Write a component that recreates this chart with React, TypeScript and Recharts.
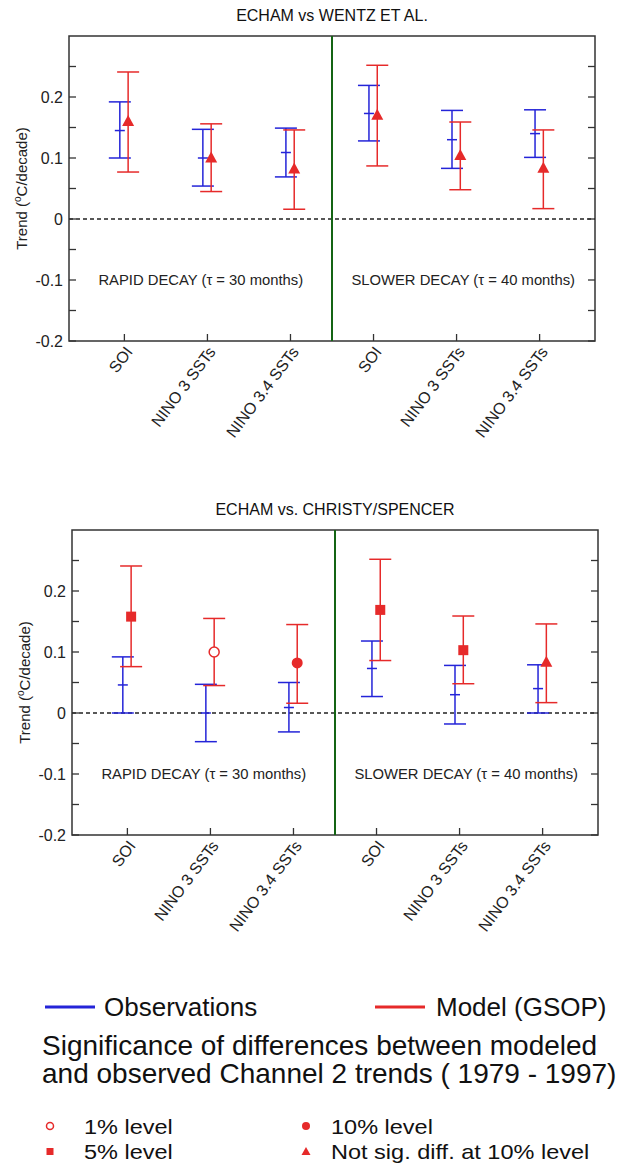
import React from "react";
import {
  ComposedChart,
  Scatter,
  ErrorBar,
  XAxis,
  YAxis,
  ReferenceLine,
  ReferenceArea,
  ReferenceDot,
} from "recharts";

const categories = ["SOI", "NINO 3 SSTs", "NINO 3.4 SSTs", "SOI", "NINO 3 SSTs", "NINO 3.4 SSTs"];
const catPos = [1, 2, 3, 4, 5, 6];
const yTicks = [-0.2, -0.15, -0.1, -0.05, 0, 0.05, 0.1, 0.15, 0.2, 0.25];

// ECHAM vs Wentz et al.
const wentzObsMid = [0.145, 0.1, 0.109, 0.173, 0.13, 0.14];
const wentzObsLow = [0.1, 0.054, 0.069, 0.128, 0.083, 0.101];
const wentzObsHigh = [0.192, 0.147, 0.149, 0.219, 0.178, 0.179];
const wentzModMid = [0.16, 0.1, 0.082, 0.17, 0.104, 0.083];
const wentzModLow = [0.077, 0.045, 0.016, 0.087, 0.048, 0.017];
const wentzModHigh = [0.241, 0.156, 0.146, 0.252, 0.159, 0.146];
const wentzSig = ["ns", "ns", "ns", "ns", "ns", "ns"];

// ECHAM vs Christy/Spencer
const christyObsMid = [0.046, 0, 0.009, 0.073, 0.03, 0.04];
const christyObsLow = [0, -0.047, -0.031, 0.027, -0.018, 0];
const christyObsHigh = [0.092, 0.047, 0.05, 0.118, 0.078, 0.079];
const christyModMid = [0.158, 0.1, 0.082, 0.169, 0.103, 0.083];
const christyModLow = [0.076, 0.045, 0.016, 0.086, 0.048, 0.017];
const christyModHigh = [0.241, 0.155, 0.145, 0.252, 0.159, 0.146];
const christySig = ["5%", "1%", "10%", "5%", "5%", "ns"];

const BLUE = "#2424d8";
const RED = "#e62a2a";
const GREEN = "#146414";
const FONT = "'Liberation Sans', Arial, sans-serif";

const buildRows = (mid: number[], low: number[], high: number[], shift: number, sig?: string[]) =>
  mid.map((m, i) => ({
    x: catPos[i] + shift,
    y: m,
    err: [m - low[i], high[i] - m],
    sig: sig ? sig[i] : "",
  }));

const ObsMark = (props: any) => {
  const { cx, cy } = props;
  return <line x1={cx - 5} x2={cx + 5} y1={cy} y2={cy} stroke={BLUE} strokeWidth={1.5} />;
};

const ModMark = (props: any) => {
  const { cx, cy, payload } = props;
  const s = payload.sig;
  if (s === "5%") return <rect x={cx - 5} y={cy - 5} width={10} height={10} fill={RED} />;
  if (s === "1%") return <circle cx={cx} cy={cy} r={5} fill="#fff" stroke={RED} strokeWidth={1.5} />;
  if (s === "10%") return <circle cx={cx} cy={cy} r={5.5} fill={RED} />;
  return <path d={`M${cx},${cy - 6.5} L${cx + 6},${cy + 4.5} L${cx - 6},${cy + 4.5} Z`} fill={RED} />;
};

function Panel(props: {
  title: string;
  top: number;
  left: number;
  right: number;
  obs: any[];
  mod: any[];
}) {
  const { title, top, left, right, obs, mod } = props;
  const plotLeft = left + 40;
  const plotRight = 620 - right;

  const YTick = (p: any) => {
    const { x, y, payload } = p;
    const v = payload.value;
    const major = Math.abs(v * 10 - Math.round(v * 10)) < 1e-6;
    return (
      <g>
        <line x1={plotLeft} x2={plotLeft + 7} y1={y} y2={y} stroke="#333" strokeWidth={1.3} />
        <line x1={plotRight - 7} x2={plotRight} y1={y} y2={y} stroke="#333" strokeWidth={1.3} />
        {major && (
          <text x={x - 6} y={y} dy={6} textAnchor="end" fontSize={16} fill="#222" fontFamily={FONT}>
            {Math.abs(v) < 1e-9 ? "0" : String(Number(v.toFixed(1)))}
          </text>
        )}
      </g>
    );
  };

  const XTick = (p: any) => {
    const { x, y, payload } = p;
    const label = categories[Math.round(payload.value) - 1];
    return (
      <g>
        <line x1={x} x2={x} y1={y} y2={y - 7} stroke="#333" strokeWidth={1.3} />
        <text
          transform={`translate(${x + 9},${y + 11}) rotate(-53)`}
          textAnchor="end"
          fontSize={16}
          fill="#222"
          fontFamily={FONT}
        >
          {label}
        </text>
      </g>
    );
  };

  const YLabel = (p: any) => {
    const vb = p.viewBox;
    const cy = vb.y + vb.height / 2;
    return (
      <text
        transform={`translate(${left - 2},${cy}) rotate(-90)`}
        textAnchor="middle"
        fontSize={15}
        fill="#222"
        fontFamily={FONT}
      >
        Trend (<tspan fontSize={10} dy={-6}>o</tspan>
        <tspan dy={6}>C/decade)</tspan>
      </text>
    );
  };

  return (
    <div style={{ position: "absolute", top, left: 0, width: 620, height: 480 }}>
      <div
        style={{
          position: "absolute",
          top: 7,
          left: plotLeft,
          width: plotRight - plotLeft,
          textAlign: "center",
          fontFamily: FONT,
          fontSize: 16,
          color: "#111",
        }}
      >
        {title}
      </div>
      <ComposedChart width={620} height={480} margin={{ top: 36, right, left, bottom: 0 }}>
        <XAxis
          type="number"
          dataKey="x"
          domain={[0.333, 6.667]}
          ticks={catPos}
          interval={0}
          allowDataOverflow
          axisLine={false}
          tickLine={false}
          tickSize={0}
          tickMargin={0}
          height={139}
          tick={<XTick />}
        />
        <YAxis
          type="number"
          dataKey="y"
          domain={[-0.2, 0.3]}
          ticks={yTicks}
          interval={0}
          allowDataOverflow
          axisLine={false}
          tickLine={false}
          tickSize={0}
          tickMargin={0}
          width={40}
          tick={<YTick />}
          label={{ content: <YLabel /> }}
        />
        <ReferenceLine y={0} stroke="#222" strokeWidth={1.3} strokeDasharray="4 3" />
        <ReferenceLine x={3.5} stroke={GREEN} strokeWidth={2} />
        <ReferenceDot
          x={1.92}
          y={-0.1}
          r={0}
          fill="none"
          stroke="none"
          label={{ value: "RAPID DECAY (\u03c4 = 30 months)", position: "center", fontSize: 14.8, fill: "#222", fontFamily: FONT }}
        />
        <ReferenceDot
          x={5.08}
          y={-0.1}
          r={0}
          fill="none"
          stroke="none"
          label={{ value: "SLOWER DECAY (\u03c4 = 40 months)", position: "center", fontSize: 14.8, fill: "#222", fontFamily: FONT }}
        />
        <Scatter data={obs} dataKey="y" shape={<ObsMark />} isAnimationActive={false}>
          <ErrorBar dataKey="err" direction="y" width={11} stroke={BLUE} strokeWidth={1.5} isAnimationActive={false} />
        </Scatter>
        <Scatter data={mod} dataKey="y" shape={<ModMark />} isAnimationActive={false}>
          <ErrorBar dataKey="err" direction="y" width={11} stroke={RED} strokeWidth={1.5} isAnimationActive={false} />
        </Scatter>
        <ReferenceArea
          x1={0.333}
          x2={6.667}
          y1={-0.2}
          y2={0.3}
          fill="none"
          stroke="#333"
          strokeWidth={1.5}
          ifOverflow="visible"
        />
      </ComposedChart>
    </div>
  );
}

function Legend() {
  const t = { fontFamily: FONT, fill: "#111" };
  const item = (x: number, y: number, s: string) => (
    <text transform={`translate(${x},${y}) scale(1.12,1)`} fontSize={21} {...t}>
      {s}
    </text>
  );
  return (
    <svg width={620} height={200} style={{ position: "absolute", top: 975, left: 0 }}>
      <line x1={45} x2={95} y1={32} y2={32} stroke={BLUE} strokeWidth={3} />
      <text x={104} y={41} fontSize={26} {...t}>Observations</text>
      <line x1={375} x2={425} y1={32} y2={32} stroke={RED} strokeWidth={3} />
      <text x={436} y={41} fontSize={26} {...t}>Model (GSOP)</text>
      <text x={42} y={80} fontSize={28} {...t}>Significance of differences between modeled</text>
      <text x={42} y={108} fontSize={28} {...t}>and observed Channel 2 trends ( 1979 - 1997)</text>
      <circle cx={50} cy={151} r={3.5} fill="#fff" stroke={RED} strokeWidth={1.5} />
      {item(84, 159, "1% level")}
      <rect x={46.5} y={173} width={7} height={7} fill={RED} />
      {item(84, 184, "5% level")}
      <circle cx={306} cy={151} r={4} fill={RED} />
      {item(331, 159, "10% level")}
      <path d="M306,172 L310.5,180 L301.5,180 Z" fill={RED} />
      {item(331, 184, "Not sig. diff. at 10% level")}
    </svg>
  );
}

export default function App() {
  const wentzObs = buildRows(wentzObsMid, wentzObsLow, wentzObsHigh, -0.055);
  const wentzMod = buildRows(wentzModMid, wentzModLow, wentzModHigh, 0.045, wentzSig);
  const christyObs = buildRows(christyObsMid, christyObsLow, christyObsHigh, -0.055);
  const christyMod = buildRows(christyModMid, christyModLow, christyModHigh, 0.045, christySig);

  return (
    <div style={{ position: "absolute", top: 0, left: 0, width: 620, height: 1164, background: "#fff" }}>
      <Panel title="ECHAM vs WENTZ ET AL." top={0} left={29} right={25} obs={wentzObs} mod={wentzMod} />
      <Panel title="ECHAM vs. CHRISTY/SPENCER" top={494} left={32} right={22} obs={christyObs} mod={christyMod} />
      <Legend />
    </div>
  );
}
